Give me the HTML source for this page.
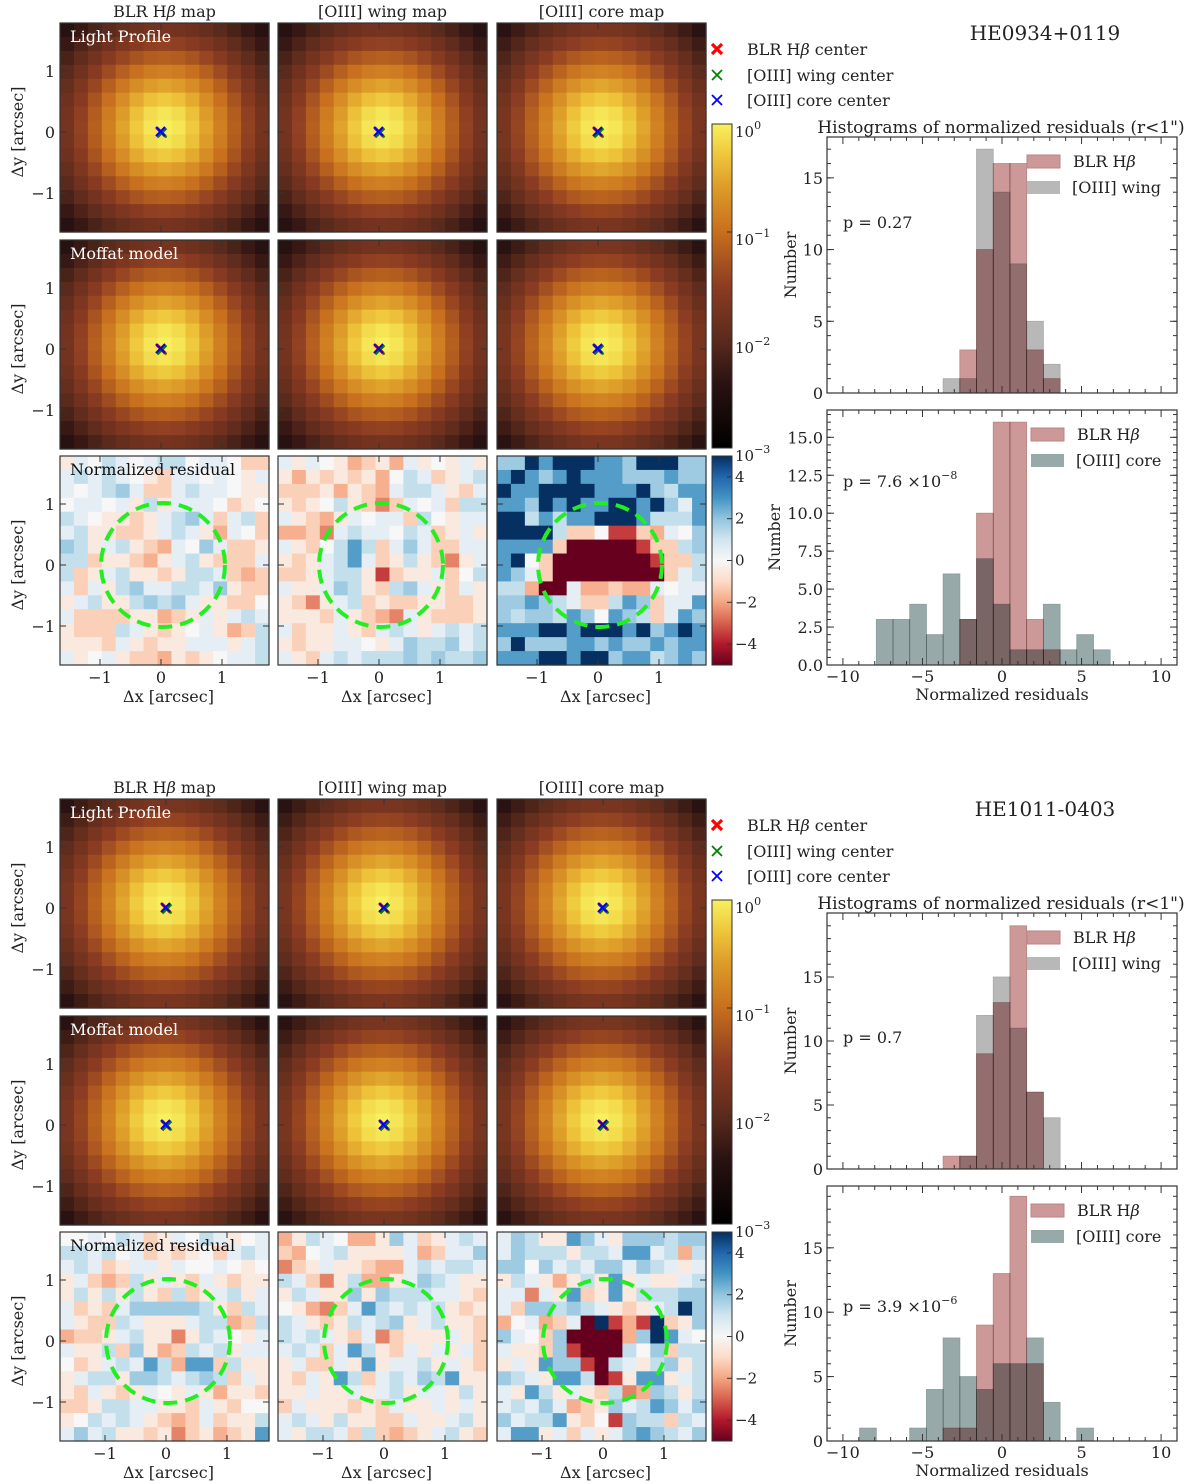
<!DOCTYPE html>
<html><head><meta charset="utf-8">
<style>
html,body{margin:0;padding:0;background:#fff;}
svg{display:block;font-family:"DejaVu Serif","Liberation Serif",serif;}
text{fill:#222;}
</style></head>
<body>
<svg id="fig" width="1200" height="1483" viewBox="0 0 1200 1483" xmlns="http://www.w3.org/2000/svg">
<defs>
<linearGradient id="gSolar" x1="0" y1="1" x2="0" y2="0">
<stop offset="0" stop-color="#000000"/><stop offset="0.2" stop-color="#2a1212"/><stop offset="0.33" stop-color="#5a2a1c"/><stop offset="0.5" stop-color="#8c3c22"/><stop offset="0.67" stop-color="#c8701e"/><stop offset="0.8" stop-color="#dc9a28"/><stop offset="0.9" stop-color="#eec43a"/><stop offset="1" stop-color="#f8f060"/>
</linearGradient>
<linearGradient id="gRdBu" x1="0" y1="1" x2="0" y2="0">
<stop offset="0" stop-color="#67001f"/><stop offset="0.1" stop-color="#b2182b"/><stop offset="0.2" stop-color="#d6604d"/><stop offset="0.3" stop-color="#f4a582"/><stop offset="0.4" stop-color="#fddbc7"/><stop offset="0.5" stop-color="#f7f7f7"/><stop offset="0.6" stop-color="#d1e5f0"/><stop offset="0.7" stop-color="#92c5de"/><stop offset="0.8" stop-color="#4393c3"/><stop offset="0.9" stop-color="#2166ac"/><stop offset="1" stop-color="#053061"/>
</linearGradient>
</defs>
</svg>
<script>
// ---------- DATA ----------
const objectNames = ["HE0934+0119", "HE1011-0403"];
const columnTitles = ["BLR H", "[OIII] wing map", "[OIII] core map"];
const moffatAlpha = [[4.2, 4.2, 4.3], [4.3, 4.3, 4.3]];
const moffatBeta = [3, 3, 3];
const resCodes = "RrOopq.cbBnN";
const resValues = [-5, -3.5, -2.5, -1.8, -1.2, -0.5, 0, 0.5, 1.2, 1.8, 2.8, 5];
const resBLR1 = ["qc.bc.cbb.cc.pp","cbcbc.qpcc.c.qc","c.cbBcppcbcc.qq",".cc.cqbqccc.pq.","bc.qqpqcbBcpcbp","cbqqppqcbcqoc.p","Bbqcbqpoc.Bcppq","bbpqqpoqcbqpppc","bpqcbqqpqbbcpop","cpcqbBccbbcBqpp","qcbqqbBbBcqqpp.","cppppqqopqcqcbc","qpppbcqpq.cqopb","qqqpcqpqqcccqcb","cq.cqppoqpq.ccb"];
const resWing1 = ["cqc.qopqocq.qcq","qoqpqpqo.bcpqcb","pppqoqpocbbcqpc","qpq.bqpOpc.cpbb","cqpoqc.ccpb.qcc","oopOcbcc.bcpqcq","cqp.bnbpcBcppcc","qpqcbncpqbqpOqc","ppqcbbqrpqqcp.b","cqqcBbqpbBcqpcq","qpOqcbpqppqqppq","qqqpcqpoOcqpppq","cpqqcqpcbcqcbcb","qpqqcc.qcBbbBcb","cqpcbcbbbBbBbbB"];
const resCore1 = ["BBNnNNNnnBNNNBB","nNnBnNnnnBBBnBB","NnnNNNNnnnNBbnn","nnBNnNnnNNnNBcn","NNbnbnnNNNnbbbn","NNNNbpp.rrpoc.B","nnnnpRRRRRrppbB","nN.pRRRRRRRrppb","nBcpRRRRRRRRpcb","bboRRcoopooc.cc","BBnBbcppbnBpccn","BbBBbnB.nBbpcnB","nnnNNnNNNnNBnNn","BNBBBnnBnBBnBnn","nnnNNnNNBnnbBnB"];
const resBLR2 = ["..c.bcpqc.bcq.c","bbcb.cpqpq.pcbc","cbcpqccqc..c.q.","qcpopbqcqpcqpqq","qbqbqbqpbpqcbqc","cpqpcBBBBBbqpbc","cqppbcqqqcbbopb","oppqcbqqOqbc.qc","cqqbpBqopbcbqcc",".pqcbcnbonnpbqq","qcbbqBBbcbBbpcq","qpcqpqc.qcqoqqp","ppqbbccqqpcqp..","q.bcbcqpopcpqqb","cBcbqqpqOpqopqn"];
const resWing2 = ["oqbc.ooqBcpqcbc","po.cbqqqqcopccB","Opqcqqpoocbcbbc","bcpOqbooqcBbcqq","qbcqqBqBbbbccqp",".qoOpcnbcbcbqpq","bcqpqbcbBqcbqqp","bcbcqpcOpqqqcqp","cbcpcnbqpcqcqcp","qcppcqnqccbqcqp","qpcqnbpcbcBbnqq","qqcqqcqcbqccqbq","pcqqqpqpcqqcqcq","cbcqbqqppcqqcbq","cqbbcpbpopqcbqp"];
const resCore2 = ["cBbqqnBcqBBBbBB","cBbbbqbbcnncbob","BB.BcbcBBcBbcqc","qbcqoqbqnqcqqcb","ccOcqnpqnqbbbBB","cpBBbBbcqpqcbNB","o.copcRNrorNpqB","Bc.pBRRRRoBNnc.","cqqpBrRRRb.Bpbb","qcqnBBrRbcqbBqb","BbcqnnbRrqnnqcb","cqnbqcqpbOoBbqb","cbcBcopqBcbnBcB","Bcbbnqp.rBbbpbc","cnnqcpcqcBnBbcB"];
const binStart = -8.95, binWidth = 1.05;
const histBLR1 = [0,0,0,0,0,0,3,10,16,16,3,1,0,0,0,0];
const histWing1 = [0,0,0,0,0,1,1,17,14,9,5,2,0,0,0,0];
const histCore1 = [0,3,3,4,2,6,3,7,4,1,1,4,1,2,1,0];
const histBLR2 = [0,0,0,0,0,1,1,9,13,19,6,0,0,0,0,0];
const histWing2 = [0,0,0,0,0,0,1,12,15,11,6,4,0,0,0,0];
const histCore2 = [1,0,0,1,4,8,5,4,6,6,8,3,0,1,0,0];
const pValues = [["p = 0.27", "p = 7.6 ×10", "−8"], ["p = 0.7", "p = 3.9 ×10", "−6"]];
const histYMax = [[17.85, 16.8], [20, 19.8]];
const histYTicks = [[[0,5,10,15],[0,2.5,5,7.5,10,12.5,15]], [[0,5,10,15],[0,5,10,15]]];
const histYTickLabels = [[["0","5","10","15"],["0.0","2.5","5.0","7.5","10.0","12.5","15.0"]], [["0","5","10","15"],["0","5","10","15"]]];
const histXTicks = [-10,-5,0,5,10];
const histXTickLabels = ["−10","−5","0","5","10"];
const imgTicks = [-1,0,1];
const imgTickLabels = ["−1","0","1"];
const cbarLogTicks = [0,-1,-2,-3];
const cbarResTicks = [4,2,0,-2,-4];
const cbarResLabels = ["4","2","0","−2","−4"];

// ---------- HELPERS ----------
const NS = "http://www.w3.org/2000/svg";
const svg = document.getElementById('fig');
function mk(tag, attrs, parent) {
  const e = document.createElementNS(NS, tag);
  for (const k in attrs) e.setAttribute(k, attrs[k]);
  (parent || svg).appendChild(e);
  return e;
}
function txt(str, x, y, size, anchor, parent, extra) {
  const t = mk('text', Object.assign({x: x, y: y, 'font-size': size, 'text-anchor': anchor || 'start'}, extra || {}), parent);
  t.textContent = str;
  return t;
}
function hex(c){return [parseInt(c.substr(1,2),16),parseInt(c.substr(3,2),16),parseInt(c.substr(5,2),16)];}
function interp(stops, t) {
  t = Math.max(0, Math.min(1, t));
  for (let i = 1; i < stops.length; i++) {
    if (t <= stops[i][0]) {
      const a = stops[i-1], b = stops[i], f = (t - a[0]) / (b[0] - a[0]);
      const ca = hex(a[1]), cb = hex(b[1]);
      return 'rgb(' + ca.map((v, j) => Math.round(v + (cb[j] - v) * f)).join(',') + ')';
    }
  }
  return stops[stops.length-1][1];
}
const solarStops = [[0,'#000000'],[0.2,'#2a1212'],[0.33,'#5a2a1c'],[0.5,'#8c3c22'],[0.67,'#c8701e'],[0.8,'#dc9a28'],[0.9,'#eec43a'],[1,'#f8f060']];
const rdbuStops = [[0,'#67001f'],[0.1,'#b2182b'],[0.2,'#d6604d'],[0.3,'#f4a582'],[0.4,'#fddbc7'],[0.5,'#f7f7f7'],[0.6,'#d1e5f0'],[0.7,'#92c5de'],[0.8,'#4393c3'],[0.9,'#2166ac'],[1,'#053061']];

const PW = 209, NC = 15, CELL = PW / NC, SCALE = 61;
const panelX = [60, 278, 497];
const blockDY = [0, 776];
const zeroOffX = [101, 106];
const residuals = [[resBLR1, resWing1, resCore1], [resBLR2, resWing2, resCore2]];
const hists = [[[histBLR1, histWing1], [histBLR1, histCore1]], [[histBLR2, histWing2], [histBLR2, histCore2]]];

function imgTicksDraw(g, px, py, zx, zy, showY, showX) {
  imgTicks.forEach((v, i) => {
    const x = zx + v * SCALE, y = zy - v * SCALE;
    mk('line', {x1: x, y1: py, x2: x, y2: py + 6, stroke: '#333', 'stroke-width': 1}, g);
    mk('line', {x1: x, y1: py + PW, x2: x, y2: py + PW - 6, stroke: '#333', 'stroke-width': 1}, g);
    mk('line', {x1: px, y1: y, x2: px + 6, y2: y, stroke: '#333', 'stroke-width': 1}, g);
    mk('line', {x1: px + PW, y1: y, x2: px + PW - 6, y2: y, stroke: '#333', 'stroke-width': 1}, g);
    if (showY) { const t = txt(imgTickLabels[i], px - 5, y + 6, 16, 'end', g);   }
    if (showX) { const t = txt(imgTickLabels[i], x, py + PW + 18, 16, 'middle', g);   }
  });
}

// ---------- BUILD ----------
for (let b = 0; b < 2; b++) {
  const dy = blockDY[b];
  const rowY = [23 + dy, 240 + dy, 456 + dy];
  const blk = mk('g', {});
  
  
  for (let c = 0; c < 3; c++) {
    const cx = panelX[c] + PW / 2;
    const t = mk('text', {x: cx, y: 17 + dy, 'font-size': 16, 'text-anchor': 'middle'}, blk);
    
    
    if (c === 0) { t.innerHTML = 'BLR H<tspan font-style="italic">β</tspan> map'; } else { t.textContent = columnTitles[c]; }
  }
  for (let r = 0; r < 3; r++) {
    const py = rowY[r];
    const yl = txt('Δy [arcsec]', 0, 0, 16, 'middle', blk, {transform: 'translate(23,' + (py + 109) + ') rotate(-90)'});
    
    
    for (let c = 0; c < 3; c++) {
      const px = panelX[c];
      const zx = px + zeroOffX[b], zy = py + 109;
      const g = mk('g', {}, blk);
      
      
      for (let i = 0; i < NC; i++) {
        for (let j = 0; j < NC; j++) {
          let col;
          if (r < 2) {
            const dxp = j - 7, dyp = i - 7;
            const a = moffatAlpha[b][c];
            const I = Math.pow(1 + (dxp * dxp + dyp * dyp) / (a * a), -moffatBeta[c]);
            const lg = Math.log10(Math.max(I, 1e-3));
            col = interp(solarStops, (lg + 3) / 3);
          } else {
            const ch = residuals[b][c][i][j];
            const v = resValues[resCodes.indexOf(ch)];
            col = interp(rdbuStops, (v + 5) / 10);
          }
          const cell = mk('rect', {x: px + j * CELL, y: py + i * CELL, width: CELL + 0.6, height: CELL + 0.6, fill: col}, g);
          
          
        }
      }
      mk('rect', {x: px, y: py, width: PW, height: PW, fill: 'none', stroke: '#333', 'stroke-width': 1.2}, g);
      imgTicksDraw(g, px, py, zx, zy, c === 0, r === 2);
      if (r < 2) {
        const m = mk('g', {'stroke-width': 2.2}, g);
        
        
        const d = 4.5;
        [['#ff0000', 3.2, 0], ['#008000', 2, 1], ['#0000ff', 2, -0.5]].forEach(s => {
          mk('path', {d: `M${zx - d + s[2]},${zy - d + s[2]}L${zx + d + s[2]},${zy + d + s[2]}M${zx - d + s[2]},${zy + d + s[2]}L${zx + d + s[2]},${zy - d + s[2]}`, stroke: s[0], 'stroke-width': s[1]}, m);
        });
      } else {
        const circ = mk('circle', {cx: zx + 2, cy: zy, r: SCALE + 1, fill: 'none', stroke: '#22ee22', 'stroke-width': 4, 'stroke-dasharray': '14 8'}, g);
        
        
        const xl = txt('Δx [arcsec]', px + PW / 2 + 4, py + PW + 37, 16, 'middle', blk);
        
        
      }
      if (c === 0 && r === 0) { const t = txt('Light Profile', px + 10, py + 19, 16, 'start', g, {style: 'fill:#fff'});   }
      if (c === 0 && r === 1) { const t = txt('Moffat model', px + 10, py + 19, 16, 'start', g, {style: 'fill:#fff'});   }
      if (c === 0 && r === 2) { const t = txt('Normalized residual', px + 10, py + 19, 16, 'start', g, {style: 'fill:#111'});   }
    }
  }
  const cb1 = mk('g', {}, blk);
  
  
  const cbTop = 124 + dy, cbBot = 448 + dy;
  mk('rect', {x: 712, y: cbTop, width: 20, height: cbBot - cbTop, fill: 'url(#gSolar)', stroke: '#333', 'stroke-width': 1}, cb1);
  cbarLogTicks.forEach(v => {
    const y = cbTop + (-v / 3) * (cbBot - cbTop);
    mk('line', {x1: 732, y1: y, x2: 727, y2: y, stroke: '#333'}, cb1);
    const t = mk('text', {x: 735, y: y + 13, 'font-size': 15}, cb1);
    t.innerHTML = '10<tspan dy="-8" font-size="11">' + (v === 0 ? '0' : '−' + (-v)) + '</tspan>';
    
    
  });
  const cb2 = mk('g', {}, blk);
  
  
  const rTop = 456 + dy, rBot = 665 + dy;
  mk('rect', {x: 712, y: rTop, width: 20, height: rBot - rTop, fill: 'url(#gRdBu)', stroke: '#333', 'stroke-width': 1}, cb2);
  cbarResTicks.forEach((v, i) => {
    const y = rTop + (5 - v) / 10 * (rBot - rTop);
    mk('line', {x1: 732, y1: y, x2: 727, y2: y, stroke: '#333'}, cb2);
    const t = txt(cbarResLabels[i], 735, y + 5, 15, 'start', cb2);
    
    
  });
  const lg = mk('g', {}, blk);
  
  
  const legY = [49, 75, 100];
  const legLabels = ['BLR H<tspan font-style="italic">β</tspan> center', '[OIII] wing center', '[OIII] core center'];
  const legCols = ['#ff0000', '#008000', '#0000ff'];
  const legW = [3.2, 1.8, 1.8];
  for (let k = 0; k < 3; k++) {
    const y = legY[k] + dy, x = 717;
    mk('path', {d: `M${x - 5},${y - 5}L${x + 5},${y + 5}M${x - 5},${y + 5}L${x + 5},${y - 5}`, stroke: legCols[k], 'stroke-width': legW[k]}, lg);
    const t = mk('text', {x: 747, y: y + 6, 'font-size': 16}, lg);
    t.innerHTML = legLabels[k];
    
    
  }
  const on = txt(objectNames[b], 1045, 40 + dy, 20, 'middle', blk);
  
  
  const ht = txt('Histograms of normalized residuals (r<1")', 1001, 133 + dy, 17, 'middle', blk);
  
  
  const hx0 = 827, hx1 = 1177;
  const xs = v => hx0 + (v + 11) / 22 * (hx1 - hx0);
  const hY = [[137 + dy, 393 + dy], [410 + dy, 665 + dy]];
  for (let h = 0; h < 2; h++) {
    const [y0, y1] = hY[h];
    const ymax = histYMax[b][h];
    const ys = v => y1 - v / ymax * (y1 - y0);
    const g = mk('g', {}, blk);
    
    
    const [s1, s2] = hists[b][h];
    const c2 = h === 0 ? '#b8b8b8' : '#98a9a9';
    const e2 = h === 0 ? '#a8a8a8' : '#8a9c9c';
    const seriesDefs = [[s1, '#cc9898', '#b88585', 'bar-blr-hbeta'], [s2, c2, e2, h === 0 ? 'bar-oiii-wing' : 'bar-oiii-core']];
    seriesDefs.forEach(sd => {
      const arr = sd[0];
      arr.forEach((n, i) => {
        if (!n) return;
        const xl = xs(binStart + i * binWidth), xr = xs(binStart + (i + 1) * binWidth);
        const rr = mk('rect', {x: xl, y: ys(n), width: xr - xl, height: ys(0) - ys(n), fill: sd[1], stroke: sd[2], 'stroke-width': 0.8, style: 'mix-blend-mode:multiply'}, g);
        
        
      });
    });
    mk('rect', {x: hx0, y: y0, width: hx1 - hx0, height: y1 - y0, fill: 'none', stroke: '#333', 'stroke-width': 1.2}, g);
    for (let v = -11; v <= 11; v++) {
      const x = xs(v), major = v % 5 === 0;
      const L = major ? 7 : 4;
      mk('line', {x1: x, y1: y0, x2: x, y2: y0 + L, stroke: '#333'}, g);
      mk('line', {x1: x, y1: y1, x2: x, y2: y1 - L, stroke: '#333'}, g);
    }
    if (h === 1) {
      histXTicks.forEach((v, i) => {
        const t = txt(histXTickLabels[i], xs(v), y1 + 17, 16, 'middle', g);
        
        
      });
    }
    const minorStep = (b === 0 && h === 1) ? 0.5 : 1;
    for (let v = 0; v <= ymax; v += minorStep) {
      const y = ys(v);
      mk('line', {x1: hx0, y1: y, x2: hx0 + 4, y2: y, stroke: '#333'}, g);
      mk('line', {x1: hx1, y1: y, x2: hx1 - 4, y2: y, stroke: '#333'}, g);
    }
    histYTicks[b][h].forEach((v, i) => {
      const y = ys(v);
      mk('line', {x1: hx0, y1: y, x2: hx0 + 7, y2: y, stroke: '#333'}, g);
      mk('line', {x1: hx1, y1: y, x2: hx1 - 7, y2: y, stroke: '#333'}, g);
      const t = txt(histYTickLabels[b][h][i], hx0 - 4, y + 6, 16, 'end', g);
      
      
    });
    const yt = txt('Number', 0, 0, 16, 'middle', g, {transform: 'translate(' + (b === 0 && h === 1 ? 780 : 796) + ',' + ((y0 + y1) / 2) + ') rotate(-90)'});
    
    
    const lY = y0 + 24;
    const l1 = mk('rect', {x: h === 0 ? 1027 : 1031, y: lY - 6, width: 33, height: 13, fill: '#cc9898', stroke: '#b88585'}, g);
    
    
    const lt1 = mk('text', {x: h === 0 ? 1073 : 1077, y: lY + 6, 'font-size': 16}, g);
    lt1.innerHTML = 'BLR H<tspan font-style="italic">β</tspan>';
    
    
    const l2 = mk('rect', {x: h === 0 ? 1027 : 1031, y: lY + 20, width: 33, height: 13, fill: c2}, g);
    
    
    const lt2 = txt(h === 0 ? '[OIII] wing' : '[OIII] core', h === 0 ? 1072 : 1076, lY + 32, 16, 'start', g);
    
    
    const pv = mk('text', {x: 843, y: (h === 0 ? (b === 0 ? 228 : 1043) : (b === 0 ? 487 : 1312)), 'font-size': 16}, g);
    
    
    if (h === 0) pv.textContent = pValues[b][0];
    else pv.innerHTML = pValues[b][1] + '<tspan dy="-8" font-size="11">' + pValues[b][2] + '</tspan>';
    if (h === 1) {
      const xt = txt('Normalized residuals', 1002, y1 + 35, 16, 'middle', g);
      
      
    }
  }
}
</script>
</body></html>
